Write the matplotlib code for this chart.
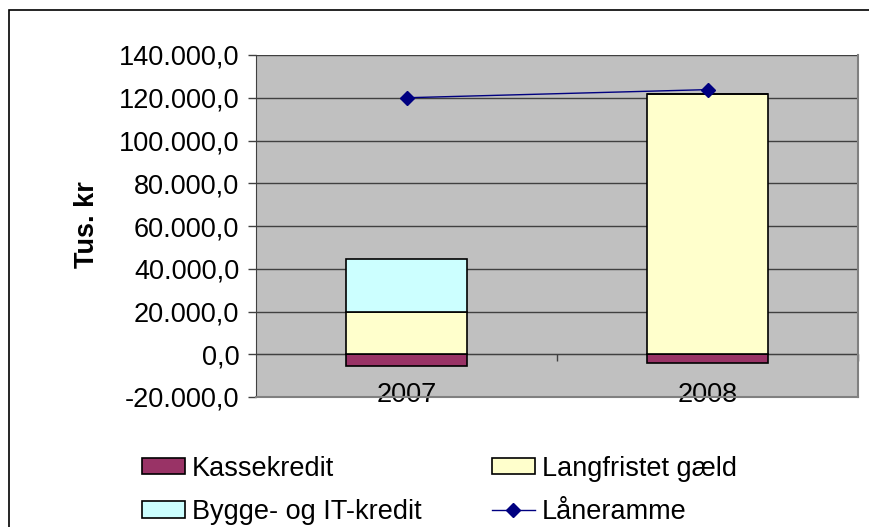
import matplotlib.pyplot as plt
import matplotlib.ticker as mticker
from matplotlib.patches import Rectangle
from matplotlib.lines import Line2D
import numpy as np

plt.rcParams['font.family'] = ['Liberation Sans', 'DejaVu Sans']

# --- data (Tus. kr) ---
years = ["2007", "2008"]
kassekredit = [-5600, -4200]
langfristet = [19700, 121700]
bygge_it = [24700, 0]
laaneramme = [120000, 123800]

y_ticks = np.arange(-20000, 140001, 20000)

def dk_fmt(v, _pos=None):
    s = f"{abs(v):,.1f}".replace(",", "X").replace(".", ",").replace("X", ".")
    return ("-" if v < 0 else "") + s

fig = plt.figure(figsize=(8.69, 5.27), dpi=100)
ax = fig.add_axes([256 / 869, 1 - 397 / 527, (858 - 256) / 869, (397 - 55) / 527])
ax.set_facecolor("#C0C0C0")

x = np.arange(len(years))
w = 0.4
ax.bar(x, kassekredit, w, color="#993366", edgecolor="black", lw=1.2, zorder=3)
ax.bar(x, langfristet, w, color="#FFFFCC", edgecolor="black", lw=1.2, zorder=3)
ax.bar(x, bygge_it, w, bottom=langfristet, color="#CCFFFF", edgecolor="black", lw=1.2, zorder=3)
ax.plot(x, laaneramme, color="#000080", lw=1.0, marker="D", ms=7, zorder=4)

ax.set_xlim(-0.5, 1.5)
ax.set_ylim(-20000, 140000)
ax.set_yticks(y_ticks)
ax.yaxis.set_major_formatter(mticker.FuncFormatter(dk_fmt))
ax.yaxis.grid(True, color="#404040", lw=1)
ax.set_axisbelow(True)
ax.tick_params(axis="y", labelsize=19.5, length=6, pad=6, color="#404040", width=1)

ax.set_xticks(x)
ax.set_xticklabels(years)
ax.tick_params(axis="x", labelsize=19.5, length=0, pad=-11)

ax.spines["top"].set_visible(False)
ax.spines["left"].set_color("#404040")
ax.spines["right"].set_color("#808080")
ax.spines["bottom"].set_color("#808080")
ax.spines["right"].set_linewidth(1.5)
ax.spines["bottom"].set_linewidth(1.5)

# category axis crossing at zero
zero_ax = ax.secondary_xaxis((0 - (-20000)) / 160000)
zero_ax.set_xticks([0.5, 1.5])
zero_ax.set_xticklabels([])
zero_ax.tick_params(length=5, color="#404040", width=1)
zero_ax.spines["bottom"].set_color("#404040")

fig.text(87 / 869, 1 - 225 / 527, "Tus. kr", fontsize=19.5, fontweight="bold",
         rotation=90, ha="center", va="center")

handles = [
    Rectangle((0, 0), 1, 1, facecolor="#993366", edgecolor="black", lw=1.2),
    Rectangle((0, 0), 1, 1, facecolor="#CCFFFF", edgecolor="black", lw=1.2),
    Rectangle((0, 0), 1, 1, facecolor="#FFFFCC", edgecolor="black", lw=1.2),
    Line2D([], [], color="#000080", lw=1.0, marker="D", ms=7),
]
labels = ["Kassekredit", "Bygge- og IT-kredit", "Langfristet gæld", "Låneramme"]
fig.legend(handles, labels, ncol=2, loc="upper left", bbox_to_anchor=(128 / 869, 1 - 442 / 527),
           frameon=False, fontsize=19.5, handlelength=1.6, handleheight=0.55,
           handletextpad=0.25, columnspacing=2.6, labelspacing=0.65, borderpad=0)

fig.add_artist(Rectangle((9 / 869, -0.1), 1.2, 1.1 - 10 / 527, fill=False,
                         transform=fig.transFigure, lw=1.2, edgecolor="black"))

fig.savefig("out.png", dpi=100)
